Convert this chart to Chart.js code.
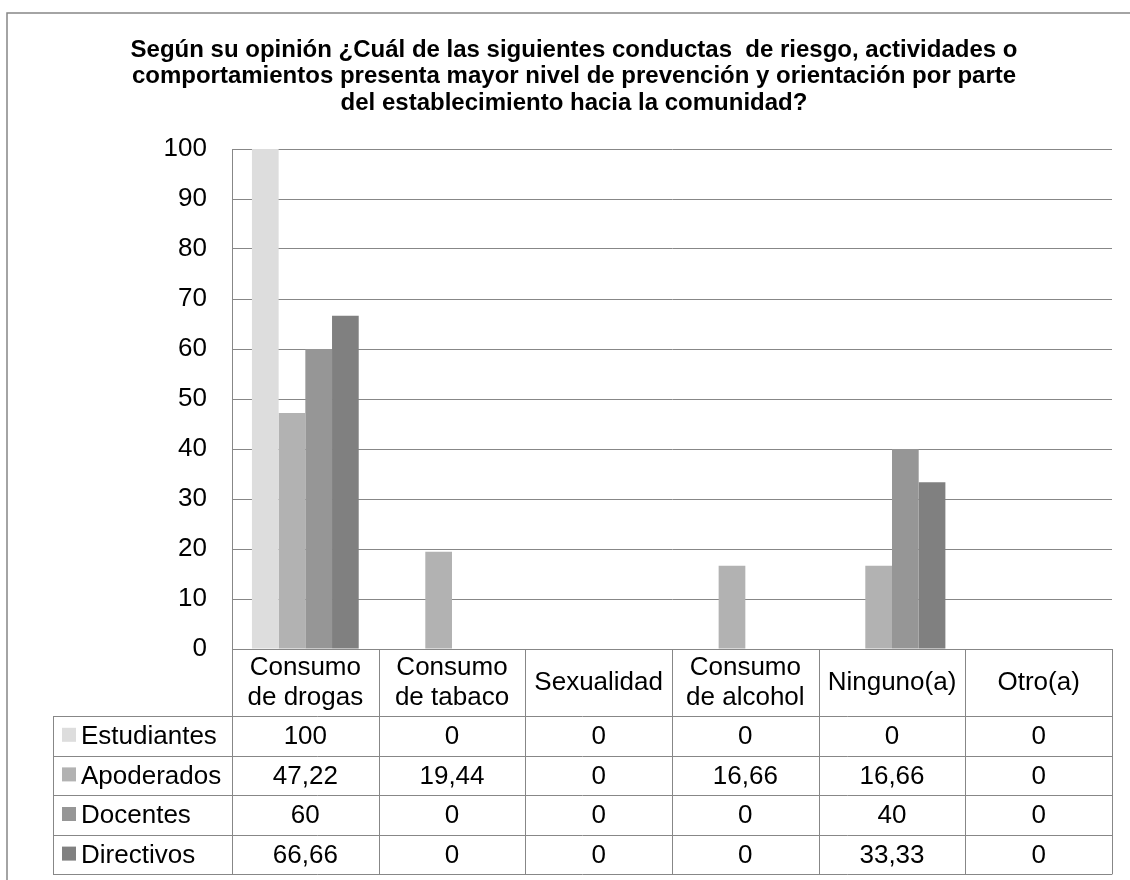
<!DOCTYPE html>
<html>
<head>
<meta charset="utf-8">
<script src="https://cdn.jsdelivr.net/npm/chart.js@4.4.1/dist/chart.umd.min.js"></script>
<style>
  html, body { margin: 0; padding: 0; background: #fff; }
  #wrap { position: relative; width: 1130px; height: 880px; }
</style>
</head>
<body>
<div id="wrap"><canvas id="chart"></canvas></div>
<script>
'use strict';

var titleLines = [
    'Según su opinión ¿Cuál de las siguientes conductas  de riesgo, actividades o',
    'comportamientos presenta mayor nivel de prevención y orientación por parte',
    'del establecimiento hacia la comunidad?'
];
var categories  = [['Consumo', 'de drogas'], ['Consumo', 'de tabaco'], ['Sexualidad'],
                   ['Consumo', 'de alcohol'], ['Ninguno(a)'], ['Otro(a)']];
var seriesNames = ['Estudiantes', 'Apoderados', 'Docentes', 'Directivos'];
var estudiantes = [100, 0, 0, 0, 0, 0];
var apoderados  = [47.22, 19.44, 0, 16.66, 16.66, 0];
var docentes    = [60, 0, 0, 0, 40, 0];
var directivos  = [66.66, 0, 0, 0, 33.33, 0];
var yTicks      = [0, 10, 20, 30, 40, 50, 60, 70, 80, 90, 100];

var seriesColors = ['#dddddd', '#b2b2b2', '#969696', '#808080'];
var lineColor    = '#878787';
var fontFamily   = 'Arial, "Liberation Sans", sans-serif';

// ── title + outer frame ──────────────────────────────────────────────
var framePlugin = {
    id: 'frame',
    beforeDraw: function (chart) {
        var ctx = chart.ctx;
        ctx.save();
        ctx.strokeStyle = lineColor;
        ctx.lineWidth = 1.5;
        ctx.beginPath();
        ctx.moveTo(7, chart.height + 5);
        ctx.lineTo(7, 13);
        ctx.lineTo(chart.width + 5, 13);
        ctx.stroke();

        ctx.fillStyle = '#000';
        ctx.font = 'bold 24px ' + fontFamily;
        ctx.textAlign = 'center';
        ctx.textBaseline = 'middle';
        titleLines.forEach(function (t, i) {
            ctx.fillText(t, 574, 50 + i * 26.5);
        });
        ctx.restore();
    }
};

// ── data table under the plot ────────────────────────────────────────
var tablePlugin = {
    id: 'dataTable',
    afterDraw: function (chart) {
        var ctx    = chart.ctx;
        var xs     = chart.scales.x;
        var area   = chart.chartArea;
        var colW   = (area.right - area.left) / categories.length;
        var top    = area.bottom;
        var headB  = 716;
        var rowH   = 39.6;
        var legL   = 53;
        var bottom = headB + rowH * seriesNames.length;
        var rows   = [estudiantes, apoderados, docentes, directivos];

        ctx.save();
        ctx.strokeStyle = lineColor;
        ctx.lineWidth = 1;
        ctx.beginPath();
        ctx.moveTo(area.left, Math.round(top) + 0.5);
        ctx.lineTo(area.right, Math.round(top) + 0.5);
        for (var r = 0; r <= seriesNames.length; r++) {
            var y = Math.round(headB + r * rowH) + 0.5;
            ctx.moveTo(legL, y);
            ctx.lineTo(area.right, y);
        }
        for (var c = 0; c <= categories.length; c++) {
            var x = Math.round(area.left + c * colW) + 0.5;
            ctx.moveTo(x, top);
            ctx.lineTo(x, bottom);
        }
        ctx.moveTo(legL + 0.5, headB);
        ctx.lineTo(legL + 0.5, bottom);
        ctx.stroke();

        ctx.fillStyle = '#000';
        ctx.font = '26px ' + fontFamily;
        ctx.textAlign = 'center';
        ctx.textBaseline = 'middle';
        var headMid = (top + headB) / 2;
        categories.forEach(function (lab, i) {
            var cx = xs.getPixelForValue(i);
            var y0 = headMid - (lab.length - 1) * 15;
            lab.forEach(function (line, k) {
                ctx.fillText(line, cx, y0 + k * 30);
            });
            rows.forEach(function (vals, r) {
                var txt = String(vals[i]).replace('.', ',');
                ctx.fillText(txt, cx, headB + r * rowH + rowH / 2 + 1);
            });
        });

        ctx.textAlign = 'left';
        seriesNames.forEach(function (name, r) {
            var cy = headB + r * rowH + rowH / 2;
            ctx.fillStyle = seriesColors[r];
            ctx.fillRect(62, cy - 8, 14, 14);
            ctx.fillStyle = '#000';
            ctx.fillText(name, 81, cy + 1);
        });
        ctx.restore();
    }
};

var seriesData = [estudiantes, apoderados, docentes, directivos];

new Chart(document.getElementById('chart'), {
    type: 'bar',
    data: {
        labels: categories.map(function (c) { return c.join(' '); }),
        datasets: seriesNames.map(function (name, i) {
            return {
                label: name,
                data: seriesData[i],
                backgroundColor: seriesColors[i],
                borderWidth: 0,
                categoryPercentage: 0.728,
                barPercentage: 1
            };
        })
    },
    plugins: [framePlugin, tablePlugin],
    options: {
        responsive: true,
        maintainAspectRatio: false,
        animation: false,
        layout: { padding: { top: 149, left: 0, right: 18, bottom: 231 } },
        plugins: {
            legend: { display: false },
            title: { display: false },
            tooltip: { enabled: false }
        },
        scales: {
            x: { display: false },
            y: {
                min: 0,
                max: 100,
                afterBuildTicks: function (scale) {
                    scale.ticks = yTicks.map(function (v) { return { value: v }; });
                },
                afterFit: function (scale) { scale.width = 232; },
                grid: { color: lineColor, lineWidth: 1, drawTicks: false },
                border: { color: lineColor, width: 1 },
                ticks: {
                    color: '#000',
                    padding: 25,
                    font: { family: fontFamily, size: 26 }
                }
            }
        }
    }
});
</script>
</body>
</html>
